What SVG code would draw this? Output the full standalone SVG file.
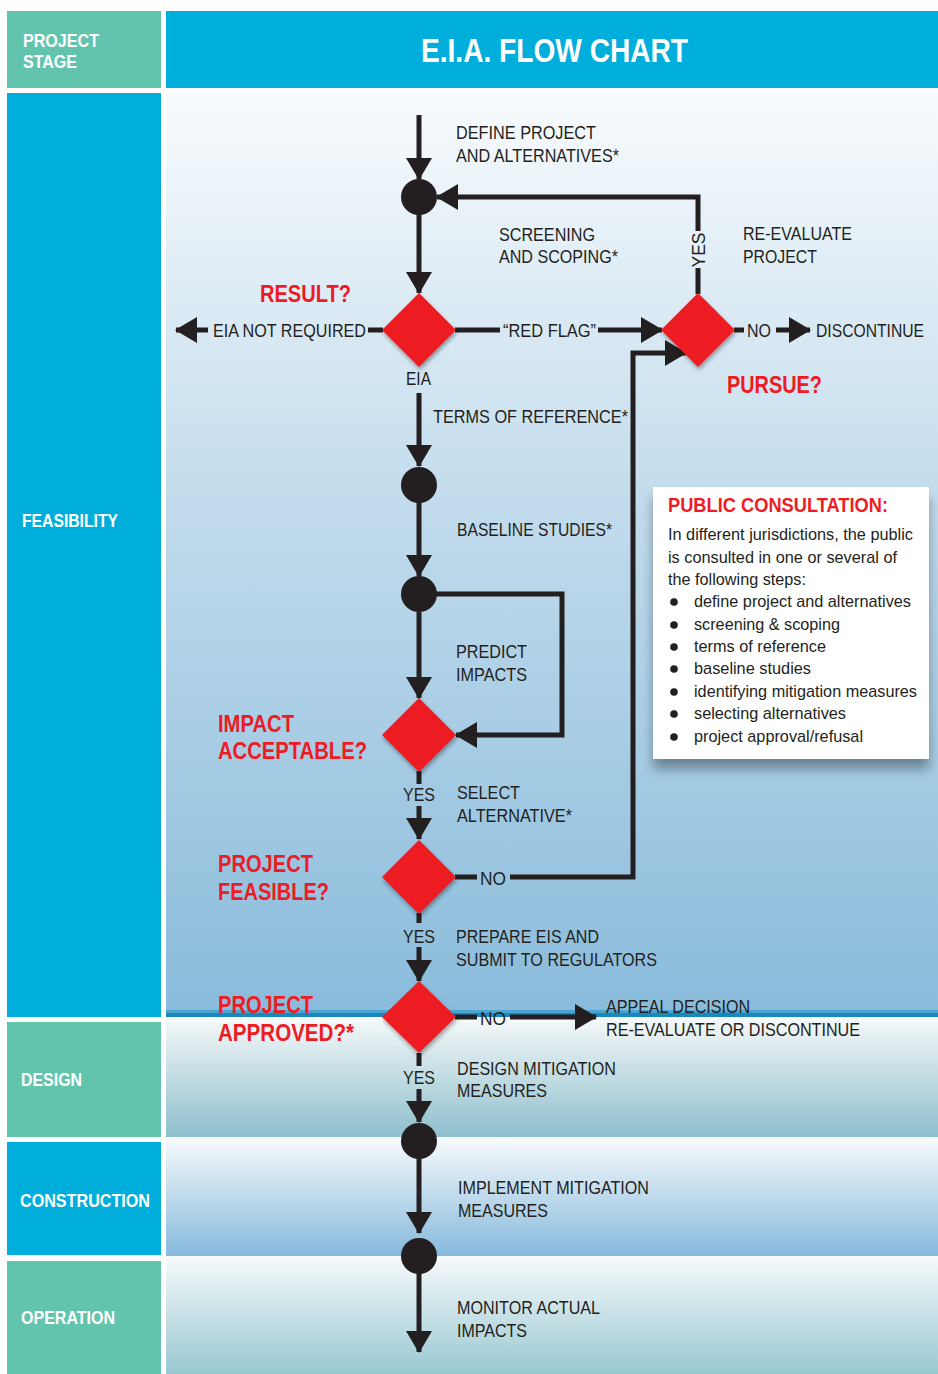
<svg xmlns="http://www.w3.org/2000/svg" width="938" height="1374" viewBox="0 0 938 1374">
<defs>
<style>
text{font-family:"Liberation Sans",Arial,sans-serif}
.lbl{font-size:19px;fill:#231f20}
.q{font-size:24px;font-weight:bold;fill:#ed1c24}
.stage{font-size:19px;font-weight:bold;fill:#fff}
.box{font-size:17px;fill:#231f20}
.con{fill:none;stroke:#231f20;stroke-width:5;stroke-linejoin:miter}
.dot{fill:#231f20}
.dia{fill:#ed1c24;filter:url(#dsh)}
</style>
<linearGradient id="gFeas" x1="0" y1="0" x2="0" y2="1">
<stop offset="0" stop-color="#f8fbfd"/>
<stop offset="0.45" stop-color="#c1dbec"/>
<stop offset="1" stop-color="#89bbdb"/>
</linearGradient>
<linearGradient id="gDes" x1="0" y1="0" x2="0" y2="1">
<stop offset="0" stop-color="#f6f9fa"/>
<stop offset="1" stop-color="#8ebfcc"/>
</linearGradient>
<linearGradient id="gCon" x1="0" y1="0" x2="0" y2="1">
<stop offset="0" stop-color="#f8fbfc"/>
<stop offset="1" stop-color="#86b9dc"/>
</linearGradient>
<linearGradient id="gOp" x1="0" y1="0" x2="0" y2="1">
<stop offset="0" stop-color="#f7fafb"/>
<stop offset="1" stop-color="#99c8d2"/>
</linearGradient>
<filter id="dsh" x="-30%" y="-30%" width="160%" height="160%">
<feGaussianBlur in="SourceAlpha" stdDeviation="2"/>
<feOffset dx="1" dy="3" result="b"/>
<feComponentTransfer><feFuncA type="linear" slope="0.35"/></feComponentTransfer>
<feMerge><feMergeNode/><feMergeNode in="SourceGraphic"/></feMerge>
</filter>
<filter id="bsh" x="-20%" y="-20%" width="140%" height="150%">
<feGaussianBlur in="SourceAlpha" stdDeviation="6"/>
<feOffset dx="0" dy="10" result="b"/>
<feComponentTransfer><feFuncA type="linear" slope="0.35"/></feComponentTransfer>
<feMerge><feMergeNode/><feMergeNode in="SourceGraphic"/></feMerge>
</filter>
<marker id="ah" viewBox="0 0 22 26" markerWidth="22" markerHeight="26" refX="21" refY="13" orient="auto" markerUnits="userSpaceOnUse">
<path d="M0,0 L22,13 L0,26 z" fill="#231f20"/>
</marker>
</defs>
<rect width="938" height="1374" fill="#ffffff"/>

<g id="background">
<rect x="7" y="11" width="154" height="77" fill="#63c4ad"/>
<rect x="166" y="11" width="772" height="77" fill="#00aedb"/>
<rect x="7" y="93" width="154" height="924" fill="#00aedb"/>
<rect x="7" y="1022" width="154" height="115" fill="#63c4ad"/>
<rect x="7" y="1142" width="154" height="113" fill="#00aedb"/>
<rect x="7" y="1261" width="154" height="113" fill="#63c4ad"/>
<rect x="166" y="93" width="772" height="924" fill="url(#gFeas)"/>
<rect x="166" y="1010" width="772" height="3" fill="#4aa5d2"/>
<rect x="166" y="1013" width="772" height="4" fill="#1a88bd"/>
<rect x="166" y="1017" width="772" height="120" fill="url(#gDes)"/>
<rect x="166" y="1137" width="772" height="119" fill="url(#gCon)"/>
<rect x="166" y="1256" width="772" height="118" fill="url(#gOp)"/>
</g>

<g id="stage-labels">
<text class="stage" x="23" y="47" textLength="76" lengthAdjust="spacingAndGlyphs">PROJECT</text>
<text class="stage" x="23" y="68" textLength="54" lengthAdjust="spacingAndGlyphs">STAGE</text>
<text x="421" y="62" font-size="34" font-weight="bold" fill="#fff" textLength="267" lengthAdjust="spacingAndGlyphs">E.I.A. FLOW CHART</text>
<text class="stage" x="22" y="527" textLength="96" lengthAdjust="spacingAndGlyphs">FEASIBILITY</text>
<text class="stage" x="21" y="1086" textLength="61" lengthAdjust="spacingAndGlyphs">DESIGN</text>
<text class="stage" x="20" y="1207" textLength="130" lengthAdjust="spacingAndGlyphs">CONSTRUCTION</text>
<text class="stage" x="21" y="1324" textLength="94" lengthAdjust="spacingAndGlyphs">OPERATION</text>
</g>

<g id="connectors">
<path class="con" d="M419,115 V179" marker-end="url(#ah)"/>
<path class="con" d="M419,214 V293" marker-end="url(#ah)"/>
<path class="con" d="M698,294 V268"/>
<path class="con" d="M698,231 V197 H437" marker-end="url(#ah)"/>
<path class="con" d="M383,330 H368"/>
<path class="con" d="M208,330 H176" marker-end="url(#ah)"/>
<path class="con" d="M455,330 H500"/>
<path class="con" d="M598,330 H662" marker-end="url(#ah)"/>
<path class="con" d="M734,330 H744"/>
<path class="con" d="M776,330 H810" marker-end="url(#ah)"/>
<path class="con" d="M419,393 V466" marker-end="url(#ah)"/>
<path class="con" d="M419,502 V576" marker-end="url(#ah)"/>
<path class="con" d="M419,612 V698" marker-end="url(#ah)"/>
<path class="con" d="M436,594 H562 V735 H456" marker-end="url(#ah)"/>
<path class="con" d="M419,771 V784"/>
<path class="con" d="M419,806 V839" marker-end="url(#ah)"/>
<path class="con" d="M455,877 H477"/>
<path class="con" d="M510,877 H633 V353 H686" marker-end="url(#ah)"/>
<path class="con" d="M419,913 V923"/>
<path class="con" d="M419,947 V981" marker-end="url(#ah)"/>
<path class="con" d="M455,1017 H477"/>
<path class="con" d="M510,1017 H596" marker-end="url(#ah)"/>
<path class="con" d="M419,1053 V1066"/>
<path class="con" d="M419,1089 V1122" marker-end="url(#ah)"/>
<path class="con" d="M419,1158 V1233" marker-end="url(#ah)"/>
<path class="con" d="M419,1273 V1352" marker-end="url(#ah)"/>
</g>

<g id="connector-labels">
<text class="lbl" x="213" y="337" textLength="153" lengthAdjust="spacingAndGlyphs">EIA NOT REQUIRED</text>
<text class="lbl" x="503" y="337" textLength="93" lengthAdjust="spacingAndGlyphs">“RED FLAG”</text>
<text class="lbl" x="406" y="385" textLength="25" lengthAdjust="spacingAndGlyphs">EIA</text>
<text class="lbl" transform="translate(705,250) rotate(-90)" x="0" y="0" text-anchor="middle" textLength="35" lengthAdjust="spacingAndGlyphs">YES</text>
<text class="lbl" x="747" y="337" textLength="24" lengthAdjust="spacingAndGlyphs">NO</text>
<text class="lbl" x="403" y="801" textLength="32" lengthAdjust="spacingAndGlyphs">YES</text>
<text class="lbl" x="480" y="885" textLength="26" lengthAdjust="spacingAndGlyphs">NO</text>
<text class="lbl" x="403" y="943" textLength="32" lengthAdjust="spacingAndGlyphs">YES</text>
<text class="lbl" x="480" y="1025" textLength="26" lengthAdjust="spacingAndGlyphs">NO</text>
<text class="lbl" x="403" y="1084" textLength="32" lengthAdjust="spacingAndGlyphs">YES</text>
</g>

<g id="step-define">
<text class="lbl" x="456" y="139" textLength="140" lengthAdjust="spacingAndGlyphs">DEFINE PROJECT</text>
<text class="lbl" x="456" y="162" textLength="163" lengthAdjust="spacingAndGlyphs">AND ALTERNATIVES*</text>
</g>
<g id="node-junction1"><circle class="dot" cx="419" cy="197" r="18"/></g>
<g id="step-screening">
<text class="lbl" x="499" y="241" textLength="96" lengthAdjust="spacingAndGlyphs">SCREENING</text>
<text class="lbl" x="499" y="263" textLength="119" lengthAdjust="spacingAndGlyphs">AND SCOPING*</text>
</g>
<g id="node-result">
<polygon class="dia" points="419,293 456,330 419,367 382,330"/>
<text class="q" x="260" y="302" textLength="91" lengthAdjust="spacingAndGlyphs">RESULT?</text>
</g>
<g id="node-pursue">
<polygon class="dia" points="698,293 735,330 698,367 661,330"/>
<text class="q" x="727" y="393" textLength="95" lengthAdjust="spacingAndGlyphs">PURSUE?</text>
</g>
<g id="step-reevaluate">
<text class="lbl" x="743" y="240" textLength="109" lengthAdjust="spacingAndGlyphs">RE-EVALUATE</text>
<text class="lbl" x="743" y="263" textLength="74" lengthAdjust="spacingAndGlyphs">PROJECT</text>
</g>
<g id="step-discontinue">
<text x="816" y="337" font-size="17.5" fill="#231f20" textLength="108" lengthAdjust="spacingAndGlyphs">DISCONTINUE</text>
</g>
<g id="step-terms">
<text class="lbl" x="433" y="423" textLength="195" lengthAdjust="spacingAndGlyphs">TERMS OF REFERENCE*</text>
</g>
<g id="node-junction2"><circle class="dot" cx="419" cy="485" r="18"/></g>
<g id="step-baseline">
<text class="lbl" x="457" y="536" textLength="155" lengthAdjust="spacingAndGlyphs">BASELINE STUDIES*</text>
</g>
<g id="node-junction3"><circle class="dot" cx="419" cy="594" r="18"/></g>
<g id="step-predict">
<text class="lbl" x="456" y="658" textLength="71" lengthAdjust="spacingAndGlyphs">PREDICT</text>
<text class="lbl" x="456" y="681" textLength="71" lengthAdjust="spacingAndGlyphs">IMPACTS</text>
</g>
<g id="node-impact">
<polygon class="dia" points="419,698 456,735 419,772 382,735"/>
<text class="q" x="218" y="732" textLength="76" lengthAdjust="spacingAndGlyphs">IMPACT</text>
<text class="q" x="218" y="759" textLength="149" lengthAdjust="spacingAndGlyphs">ACCEPTABLE?</text>
</g>
<g id="step-select">
<text class="lbl" x="457" y="799" textLength="63" lengthAdjust="spacingAndGlyphs">SELECT</text>
<text class="lbl" x="457" y="822" textLength="115" lengthAdjust="spacingAndGlyphs">ALTERNATIVE*</text>
</g>
<g id="node-feasible">
<polygon class="dia" points="419,840 456,877 419,914 382,877"/>
<text class="q" x="218" y="872" textLength="95" lengthAdjust="spacingAndGlyphs">PROJECT</text>
<text class="q" x="218" y="900" textLength="111" lengthAdjust="spacingAndGlyphs">FEASIBLE?</text>
</g>
<g id="step-prepare">
<text class="lbl" x="456" y="943" textLength="143" lengthAdjust="spacingAndGlyphs">PREPARE EIS AND</text>
<text class="lbl" x="456" y="966" textLength="201" lengthAdjust="spacingAndGlyphs">SUBMIT TO REGULATORS</text>
</g>
<g id="node-approved">
<polygon class="dia" points="419,981 456,1017 419,1053 382,1017"/>
<text class="q" x="218" y="1013" textLength="95" lengthAdjust="spacingAndGlyphs">PROJECT</text>
<text class="q" x="218" y="1041" textLength="136" lengthAdjust="spacingAndGlyphs">APPROVED?*</text>
</g>
<g id="step-appeal">
<text class="lbl" x="606" y="1013" textLength="144" lengthAdjust="spacingAndGlyphs">APPEAL DECISION</text>
<text class="lbl" x="606" y="1036" textLength="254" lengthAdjust="spacingAndGlyphs">RE-EVALUATE OR DISCONTINUE</text>
</g>
<g id="step-design">
<text class="lbl" x="457" y="1075" textLength="159" lengthAdjust="spacingAndGlyphs">DESIGN MITIGATION</text>
<text class="lbl" x="457" y="1097" textLength="90" lengthAdjust="spacingAndGlyphs">MEASURES</text>
</g>
<g id="node-junction4"><circle class="dot" cx="419" cy="1141" r="18"/></g>
<g id="step-implement">
<text class="lbl" x="458" y="1194" textLength="191" lengthAdjust="spacingAndGlyphs">IMPLEMENT MITIGATION</text>
<text class="lbl" x="458" y="1217" textLength="90" lengthAdjust="spacingAndGlyphs">MEASURES</text>
</g>
<g id="node-junction5"><circle class="dot" cx="419" cy="1256" r="18"/></g>
<g id="step-monitor">
<text class="lbl" x="457" y="1314" textLength="143" lengthAdjust="spacingAndGlyphs">MONITOR ACTUAL</text>
<text class="lbl" x="457" y="1337" textLength="70" lengthAdjust="spacingAndGlyphs">IMPACTS</text>
</g>

<g id="public-consultation">
<rect x="653" y="487" width="276" height="272" fill="#ffffff" filter="url(#bsh)"/>
<text x="668" y="512" font-size="20" font-weight="bold" fill="#ed1c24" textLength="220" lengthAdjust="spacingAndGlyphs">PUBLIC CONSULTATION:</text>
<text class="box" x="668" y="540" textLength="245" lengthAdjust="spacingAndGlyphs">In different jurisdictions, the public</text>
<text class="box" x="668" y="563" textLength="229" lengthAdjust="spacingAndGlyphs">is consulted in one or several of</text>
<text class="box" x="668" y="585" textLength="138" lengthAdjust="spacingAndGlyphs">the following steps:</text>
<g fill="#231f20">
<circle cx="674" cy="602" r="3.8"/>
<circle cx="674" cy="625" r="3.8"/>
<circle cx="674" cy="647" r="3.8"/>
<circle cx="674" cy="669" r="3.8"/>
<circle cx="674" cy="692" r="3.8"/>
<circle cx="674" cy="714" r="3.8"/>
<circle cx="674" cy="737" r="3.8"/>
</g>
<text class="box" x="694" y="607" textLength="217" lengthAdjust="spacingAndGlyphs">define project and alternatives</text>
<text class="box" x="694" y="630" textLength="146" lengthAdjust="spacingAndGlyphs">screening &amp; scoping</text>
<text class="box" x="694" y="652" textLength="132" lengthAdjust="spacingAndGlyphs">terms of reference</text>
<text class="box" x="694" y="674" textLength="117" lengthAdjust="spacingAndGlyphs">baseline studies</text>
<text class="box" x="694" y="697" textLength="223" lengthAdjust="spacingAndGlyphs">identifying mitigation measures</text>
<text class="box" x="694" y="719" textLength="152" lengthAdjust="spacingAndGlyphs">selecting alternatives</text>
<text class="box" x="694" y="742" textLength="169" lengthAdjust="spacingAndGlyphs">project approval/refusal</text>
</g>
</svg>
